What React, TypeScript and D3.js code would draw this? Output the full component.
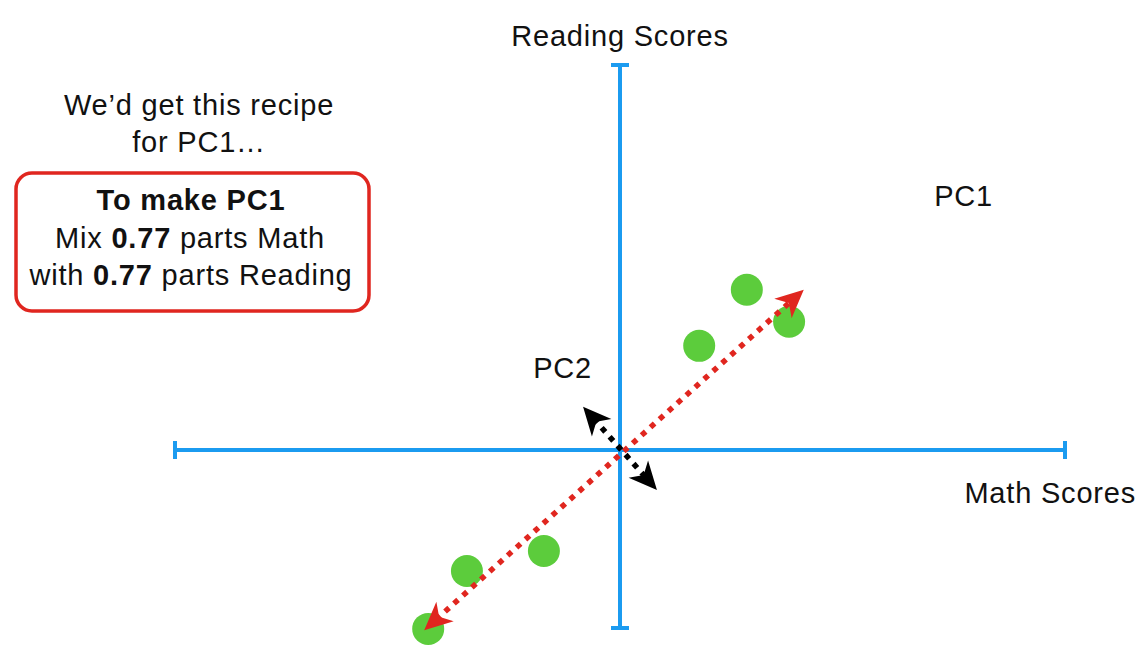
import React from "react";
import * as d3 from "d3";

const W = 1147;
const H = 661;

// Data (units: score deviations from centre)
const mathScores = [2.85, 3.8, 1.78, -1.71, -3.44, -4.31];
const readingScores = [3.6, 2.88, 2.34, -2.27, -2.72, -4.02];
const pc1Ends = [[-4.4, -4.05], [4.13, 3.6]];
const pc2Ends = [[-0.83, 0.97], [0.83, -0.9]];
const axisLabels = { x: "Math Scores", y: "Reading Scores" };
const pcLabels = [{ name: "PC1", x: 7.06, y: 5.48 }, { name: "PC2", x: -1.95, y: 1.62 }];

const xScale = d3.scaleLinear().domain([-10, 10]).range([175, 1065]);
const yScale = d3.scaleLinear().domain([-4, 8.65]).range([628, 65]);

function arrowHead(tx: number, ty: number, fx: number, fy: number, len: number, half: number, notch: number) {
  const ang = Math.atan2(ty - fy, tx - fx);
  const ux = Math.cos(ang), uy = Math.sin(ang);
  const px = -uy, py = ux;
  const bx = tx - ux * len, by = ty - uy * len;
  const nx = tx - ux * (len - notch), ny = ty - uy * (len - notch);
  const path = d3.path();
  path.moveTo(tx, ty);
  path.lineTo(bx + px * half, by + py * half);
  path.lineTo(nx, ny);
  path.lineTo(bx - px * half, by - py * half);
  path.closePath();
  return path.toString();
}

function DottedArrow({ ends, color, width, dash }: { ends: number[][]; color: string; width: number; dash: string }) {
  const x1 = xScale(ends[0][0]), y1 = yScale(ends[0][1]);
  const x2 = xScale(ends[1][0]), y2 = yScale(ends[1][1]);
  const ang = Math.atan2(y2 - y1, x2 - x1);
  const inset = 16;
  const lx1 = x1 + Math.cos(ang) * inset, ly1 = y1 + Math.sin(ang) * inset;
  const lx2 = x2 - Math.cos(ang) * inset, ly2 = y2 - Math.sin(ang) * inset;
  return (
    <g>
      <line x1={lx1} y1={ly1} x2={lx2} y2={ly2} stroke={color} strokeWidth={width} strokeDasharray={dash} />
      <path d={arrowHead(x2, y2, x1, y1, 28, 13, 8)} fill={color} />
      <path d={arrowHead(x1, y1, x2, y2, 28, 13, 8)} fill={color} />
    </g>
  );
}

export default function App() {
  const blue = "#1b9bf0";
  const cx = xScale(0), cy = yScale(0);
  const font = "'Liberation Sans', Arial, Helvetica, sans-serif";
  const fs = 29;
  const ls = 0.8;
  return (
    <svg width={W} height={H} style={{ position: "absolute", left: 0, top: 0, background: "#fff" }} fontFamily={font} letterSpacing={ls}>
      <rect width={W} height={H} fill="#fff" />
      {/* axes */}
      <g stroke={blue} strokeWidth={4}>
        <line x1={xScale(-10)} y1={cy} x2={xScale(10)} y2={cy} />
        <line x1={xScale(-10)} y1={cy - 9} x2={xScale(-10)} y2={cy + 9} />
        <line x1={xScale(10)} y1={cy - 9} x2={xScale(10)} y2={cy + 9} />
        <line x1={cx} y1={yScale(-4)} x2={cx} y2={yScale(8.65)} />
        <line x1={cx - 9} y1={yScale(-4)} x2={cx + 9} y2={yScale(-4)} />
        <line x1={cx - 9} y1={yScale(8.65)} x2={cx + 9} y2={yScale(8.65)} />
      </g>
      <text x={cx} y={46} textAnchor="middle" fontSize={fs} fill="#111">{axisLabels.y}</text>
      <text x={1136} y={503} textAnchor="end" fontSize={fs} fill="#111">{axisLabels.x}</text>
      {pcLabels.map((p) => (
        <text key={p.name} x={xScale(p.x)} y={yScale(p.y)} fontSize={fs} fill="#111">{p.name}</text>
      ))}
      {/* points */}
      {mathScores.map((m, i) => (
        <circle key={i} cx={xScale(m)} cy={yScale(readingScores[i])} r={16} fill="#5ccc3c" />
      ))}
      <DottedArrow ends={pc1Ends} color="#e0261f" width={5.5} dash="5.5 6.5" />
      <DottedArrow ends={pc2Ends} color="#000" width={5.5} dash="5.5 6.5" />
      {/* recipe text */}
      <text x={199} y={115} textAnchor="middle" fontSize={fs} fill="#111">We’d get this recipe</text>
      <text x={199} y={152} textAnchor="middle" fontSize={fs} fill="#111">for PC1…</text>
      <rect x={16} y={173} width={353} height={138} rx={16} fill="none" stroke="#e0261f" strokeWidth={3.5} />
      <text x={191} y={210} textAnchor="middle" fontSize={fs} fontWeight="bold" fill="#111">To make PC1</text>
      <text x={190} y={248} textAnchor="middle" fontSize={fs} fill="#111">Mix <tspan fontWeight="bold">0.77</tspan> parts Math</text>
      <text x={191} y={285} textAnchor="middle" fontSize={fs} fill="#111">with <tspan fontWeight="bold">0.77</tspan> parts Reading</text>
    </svg>
  );
}
